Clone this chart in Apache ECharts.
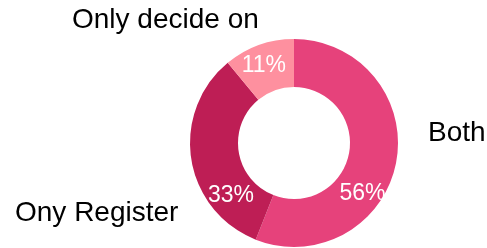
<!DOCTYPE html>
<html>
<head>
<meta charset="utf-8">
<script src="https://cdn.jsdelivr.net/npm/echarts@6/dist/echarts.min.js"></script>
<style>
html,body{margin:0;padding:0;background:#fff;}
#chart{width:487px;height:248px;}
</style>
</head>
<body>
<div id="chart"></div>
<script>
const categories = ['Both', 'Ony Register', 'Only decide on'];
const values = [56, 33, 11];
const colors = ['#E6427B', '#BE1E55', '#FE909F'];

// label placement tweaks (layout only)
const innerOffsets = [[-13, 35], [19, 40], [-2, 1]];
const outerPos = [[428, 133, 'left'], [15, 213, 'left'], [72, 20.5, 'left']];

const data = categories.map((c, i) => ({ name: c, value: values[i], itemStyle: { color: colors[i] } }));
const font = '"Liberation Sans", Arial, Helvetica, sans-serif';

const chart = echarts.init(document.getElementById('chart'), null, { renderer: 'canvas' });
chart.setOption({
  animation: false,
  series: [
    {
      type: 'pie',
      center: [294, 143],
      radius: [56, 104],
      startAngle: 90,
      clockwise: true,
      avoidLabelOverlap: false,
      silent: true,
      data: data,
      label: {
        show: true,
        position: 'inside',
        formatter: '{c}%',
        color: '#fff',
        fontSize: 23,
        fontFamily: font
      },
      labelLine: { show: false },
      labelLayout: function (p) {
        const o = innerOffsets[p.dataIndex];
        return { dx: o[0], dy: o[1] };
      }
    },
    {
      type: 'pie',
      center: [294, 143],
      radius: [56, 104],
      startAngle: 90,
      clockwise: true,
      avoidLabelOverlap: false,
      silent: true,
      data: categories.map((c, i) => ({ name: c, value: values[i] })),
      itemStyle: { color: 'rgba(0,0,0,0)' },
      label: {
        show: true,
        position: 'outside',
        formatter: '{b}',
        color: '#000',
        fontSize: 28,
        fontFamily: font
      },
      labelLine: { show: false },
      labelLayout: function (p) {
        const o = outerPos[p.dataIndex];
        return { x: o[0], y: o[1], align: o[2], verticalAlign: 'middle' };
      }
    }
  ]
});
</script>
</body>
</html>
